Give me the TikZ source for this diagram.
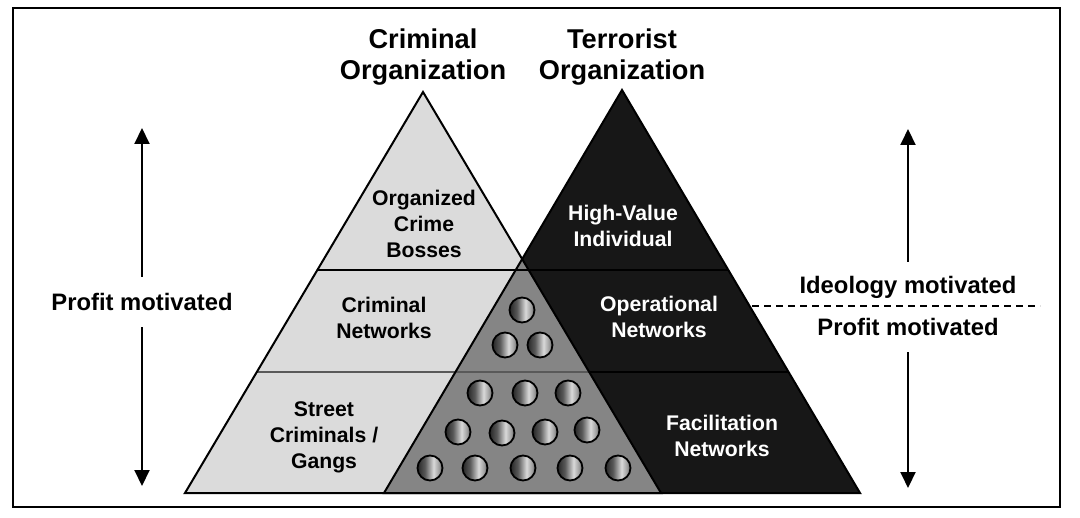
\documentclass[tikz,border=0pt]{standalone}
\usepackage{fontspec}
\setmainfont{Liberation Sans}
\usetikzlibrary{arrows.meta, positioning, calc}

\pgfdeclarehorizontalshading{spheregrad}{100bp}{color(0bp)=(black!85); color(25bp)=(black!85); color(40bp)=(black!65); color(57bp)=(white!85!black); color(69bp)=(black!40); color(75bp)=(black!70); color(100bp)=(black!70)}

\definecolor{lightpyr}{gray}{0.86}
\definecolor{darkpyr}{gray}{0.09}
\definecolor{overlap}{gray}{0.52}

\tikzset{
  heading/.style={font=\fontsize{13.6}{15.5}\selectfont\bfseries, align=center},
  tierlabel/.style={font=\fontsize{10.6}{13}\selectfont\bfseries, align=center},
  sidelabel/.style={font=\fontsize{11.9}{14}\selectfont\bfseries, minimum height=25pt, inner sep=0pt},
  motivearrow/.style={line width=1pt, -{Triangle[length=8pt,width=7.5pt]}},
  ball/.style={draw=black, line width=0.9pt, shading=spheregrad}
}

\begin{document}
\begin{tikzpicture}[x=0.5pt, y=-0.5pt]
    \useasboundingbox (0,0) rectangle (1080,518);

    % frame
    \draw[line width=1.25pt] (13,8) rectangle (1060,507);

    % corners of the two pyramids
    \coordinate (capC) at (423,92);
    \coordinate (leftC) at (185,493);
    \coordinate (rightC) at (661,493);
    \coordinate (capT) at (622,90);
    \coordinate (leftT) at (384,493);
    \coordinate (rightT) at (860,493);

    % pyramids
    \fill[lightpyr] (capC) -- (leftC) -- (rightC) -- cycle;
    \fill[darkpyr] (capT) -- (leftT) -- (rightT) -- cycle;

    % tier lines
    \begin{scope}
        \clip (capC) -- (leftC) -- (rightC) -- cycle;
        \draw[line width=1pt] (0,270) -- (1080,270);
        \draw[line width=1pt] (0,372) -- (1080,372);
    \end{scope}
    \begin{scope}
        \clip (capT) -- (leftT) -- (rightT) -- cycle;
        \draw[line width=1pt] (0,270) -- (1080,270);
        \draw[line width=1pt] (0,372) -- (1080,372);
    \end{scope}

    % overlap of the two
    \begin{scope}
        \clip (capC) -- (leftC) -- (rightC) -- cycle;
        \fill[overlap] (capT) -- (leftT) -- (rightT) -- cycle;
        \draw[line width=0.8pt, black!65] (0,372) -- (1080,372);
        \draw[line width=1pt] (0,270) -- (1080,270);
    \end{scope}

    % outlines
    \draw[line width=1pt, line join=miter] (capC) -- (leftC) -- (rightC) -- cycle;
    \draw[line width=1pt, line join=miter] (capT) -- (leftT) -- (rightT) -- cycle;

    % balls
    \foreach \sx/\sy in {522/310, 505/345, 540/345, 480/393, 525/393, 568/393,
                         458/432, 502/433, 545/432, 587/430,
                         430/468, 475/468, 523/468, 570/468, 618/468}
        \path[ball] (\sx,\sy) circle (12.5);

    % titles
    \node[heading] (crimtitle) at (423,57) {Criminal\\Organization};
    \node[heading] (terrtitle) at (622,57) {Terrorist\\Organization};

    % tiers
    \node[tierlabel] (bosses) at (424,224) {Organized\\Crime\\Bosses};
    \node[tierlabel] (crimnet) at (384,318) {Criminal\\Networks};
    \node[tierlabel] (street) at (324,437) {Street\\Criminals /\\Gangs};
    \node[tierlabel, white] (hvi) at (623,226) {High-Value\\Individual};
    \node[tierlabel, white] (opnet) at (659,317) {Operational\\Networks};
    \node[tierlabel, white] (facnet) at (722,436) {Facilitation\\Networks};

    % left side
    \node[sidelabel] (profitL) at (142,302) {Profit motivated};
    \coordinate (profitLtop) at (142,128);
    \coordinate (profitLbot) at (142,486);
    \draw[motivearrow] (profitL.north) -- (profitLtop);
    \draw[motivearrow] (profitL.south) -- (profitLbot);

    % right side
    \node[sidelabel] (ideology) at (908,287) {Ideology motivated};
    \node[sidelabel] (profitR) at (908,327) {Profit motivated};
    \coordinate (ideologytop) at (908,129);
    \coordinate (profitRbot) at (908,488);
    \draw[motivearrow] (ideology.north) -- (ideologytop);
    \draw[motivearrow] (profitR.south) -- (profitRbot);
    \coordinate (splitL) at (752,306);
    \coordinate (splitR) at (1040,306);
    \draw[line width=0.8pt, dash pattern=on 3.5pt off 2.5pt] (splitL) -- (splitR);

\end{tikzpicture}
\end{document}
